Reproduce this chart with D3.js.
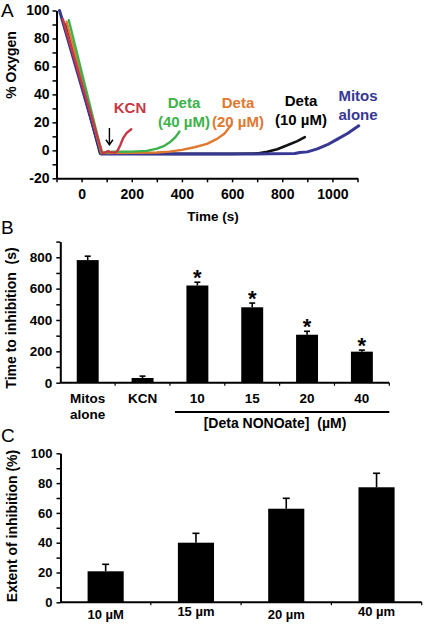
<!DOCTYPE html>
<html>
<head>
<meta charset="utf-8">
<script src="https://cdn.jsdelivr.net/npm/d3@7/dist/d3.min.js"></script>
<style>
  html, body { margin: 0; padding: 0; background: #fff; }
  svg { display: block; }
  text { font-family: "Liberation Sans", Arial, sans-serif; }
</style>
</head>
<body>
<svg id="chart" width="425" height="626"></svg>
<script>
// ---------- Panel A data: % oxygen vs time (s) ----------
const timeTicks = [0, 200, 400, 600, 800, 1000];
const oxygenTicks = [-20, 0, 20, 40, 60, 80, 100];

const mitosAlone = [[-88,100],[78,-2.6],[150,-2.6],[300,-2.7],[450,-2.7],[600,-2.7],[750,-2.5],[850,-2.3],[870,-1.6],[900,-1.1],[940,1],[980,4],[1020,8],[1060,12],[1105,17.5]];
const deta10 = [[-64,90],[74,-2.3],[200,-2.4],[400,-2.5],[600,-2.5],[700,-2.2],[740,-1.0],[780,0.8],[820,3.6],[860,6.6],[890,9.4]];
const deta20 = [[-60,92],[79,-2.0],[200,-1.8],[300,-1.5],[350,-0.9],[400,0.3],[450,2.2],[500,4.6],[540,8.2],[570,12],[597,18.2]];
const deta40 = [[-51,93],[80,-1.6],[130,-1.0],[200,-0.9],[260,-0.4],[300,1.2],[330,3.2],[355,6.2],[375,9.6],[390,13.4]];
const kcn = [[-75,94],[82,-1.8],[95,-1.6],[105,-0.6],[115,-1.3],[135,-1.6],[145,0.2],[155,4],[165,8.5],[180,12.5],[198,15.1]];
const kcnAddition = 111; // time of the arrow

// ---------- Panel B data: time to inhibition ----------
const inhibCategories = ["Mitos alone", "KCN", "10", "15", "20", "40"];
const inhibTime = [782, 30, 620, 481, 306, 198];
const inhibTimeErr = [25, 12, 21, 27, 22, 10];
const inhibSignificant = [false, false, true, true, true, true];
const inhibTicks = [0, 200, 400, 600, 800];

// ---------- Panel C data: extent of inhibition ----------
const extentCategories = ["10 µM", "15 µm", "20 µm", "40 µm"];
const extentValues = [20.8, 40.0, 62.8, 77.2];
const extentErr = [4.7, 6.3, 7.0, 9.4];
const extentTicks = [0, 20, 40, 60, 80, 100];

const svg = d3.select("#chart");
svg.append("rect").attr("width", 425).attr("height", 626).attr("fill", "#fff");

const FONT = '"Liberation Sans", Arial, sans-serif';

function styleAxis(g, fontSize) {
  g.select(".domain").attr("stroke", "#000").attr("stroke-width", 2);
  g.selectAll(".tick line").attr("stroke", "#000").attr("stroke-width", 1.5);
  g.selectAll(".tick text").attr("fill", "#000").style("font-family", FONT)
    .style("font-size", fontSize + "px").style("font-weight", "bold");
}

// ================= Panel A =================
const xA = d3.scaleLinear().domain([-100, 1100]).range([56.5, 357.5]);
const yA = d3.scaleLinear().domain([-20, 100]).range([178.3, 10.5]);

const gAy = svg.append("g").attr("transform", `translate(${xA(-100)},0)`)
  .call(d3.axisLeft(yA).tickValues(d3.range(-20, 101, 10)).tickSize(4).tickSizeOuter(0).tickPadding(3)
    .tickFormat(d => oxygenTicks.includes(d) ? d : ""));
styleAxis(gAy, 14);

const gAx = svg.append("g").attr("transform", `translate(0,${yA(-20)})`)
  .call(d3.axisBottom(xA).tickValues(d3.range(-100, 1101, 100)).tickSize(4).tickSizeOuter(0).tickPadding(7)
    .tickFormat(d => timeTicks.includes(d) ? d : ""));
styleAxis(gAx, 14);

const lineA = d3.line().x(d => xA(d[0])).y(d => yA(d[1]));
const seriesA = [
  { data: deta10, color: "#111111", w: 2.6 },
  { data: mitosAlone, color: "#373894", w: 3 },
  { data: deta20, color: "#e0782f", w: 2.4 },
  { data: deta40, color: "#3db24b", w: 2.4 },
  { data: kcn, color: "#c83844", w: 2.4 }
];
seriesA.forEach(s => {
  svg.append("path").datum(s.data).attr("d", lineA)
    .attr("fill", "none").attr("stroke", s.color).attr("stroke-width", s.w)
    .attr("stroke-linejoin", "round").attr("stroke-linecap", "round");
});

// arrow marking KCN addition
const ax = xA(kcnAddition);
const aTop = yA(16), aTip = yA(4);
svg.append("line").attr("x1", ax).attr("x2", ax).attr("y1", aTop).attr("y2", aTip)
  .attr("stroke", "#000").attr("stroke-width", 1.4);
svg.append("path").attr("d", `M${ax-3.5},${aTip-5} L${ax},${aTip} L${ax+3.5},${aTip-5}`)
  .attr("fill", "none").attr("stroke", "#000").attr("stroke-width", 1.4);

// series labels
const labelsA = [
  { lines: ["KCN"], x: 130, y: 113, color: "#c83844" },
  { lines: ["Deta", "(40 µM)"], x: 184, y: 108, color: "#3db24b" },
  { lines: ["Deta", "(20 µM)"], x: 238, y: 108, color: "#e0782f" },
  { lines: ["Deta", "(10 µM)"], x: 301, y: 106, color: "#000" },
  { lines: ["Mitos", "alone"], x: 358, y: 101, color: "#373894" }
];
labelsA.forEach(l => {
  const t = svg.append("text").attr("x", l.x).attr("y", l.y).attr("text-anchor", "middle")
    .attr("fill", l.color).style("font-size", "15px").style("font-weight", "bold");
  l.lines.forEach((s, i) => t.append("tspan").attr("x", l.x).attr("dy", i === 0 ? 0 : 19).text(s));
});

svg.append("text").attr("transform", "translate(16,65) rotate(-90)").attr("text-anchor", "middle")
  .style("font-size", "14px").style("font-weight", "bold").text("% Oxygen");
svg.append("text").attr("x", 213).attr("y", 221).attr("text-anchor", "middle")
  .style("font-size", "13.5px").style("font-weight", "bold").text("Time (s)");
svg.append("text").attr("x", 1).attr("y", 17).style("font-size", "19px").text("A");

// ================= Panel B =================
const xB = d3.scaleBand().domain(inhibCategories).range([60.3, 389.3]).padding(0);
const yB = d3.scaleLinear().domain([0, 900]).range([382.7, 241.6]);

const gBy = svg.append("g").attr("transform", `translate(60.3,0)`)
  .call(d3.axisLeft(yB).tickValues(d3.range(0, 901, 100)).tickSize(4).tickSizeOuter(0).tickPadding(4)
    .tickFormat(d => inhibTicks.includes(d) ? d : ""));
styleAxis(gBy, 13.5);

const gBx = svg.append("g").attr("transform", `translate(0,${yB(0)})`);
gBx.append("line").attr("x1", 60.3).attr("x2", 389.3).attr("stroke", "#000").attr("stroke-width", 2);
inhibCategories.concat([null]).forEach((c, i) => {
  const x = c === null ? 389.3 : xB(c);
  if (i === 0) return;
  gBx.append("line").attr("x1", x).attr("x2", x).attr("y1", 0).attr("y2", 3)
    .attr("stroke", "#000").attr("stroke-width", 1.2);
});

const bwB = xB.bandwidth() * 0.4;
inhibCategories.forEach((c, i) => {
  const cx = xB(c) + xB.bandwidth() / 2;
  svg.append("rect").attr("x", cx - bwB / 2).attr("width", bwB)
    .attr("y", yB(inhibTime[i])).attr("height", yB(0) - yB(inhibTime[i])).attr("fill", "#000");
  const et = yB(inhibTime[i] + inhibTimeErr[i]);
  svg.append("line").attr("x1", cx).attr("x2", cx).attr("y1", yB(inhibTime[i])).attr("y2", et)
    .attr("stroke", "#000").attr("stroke-width", 1.6);
  svg.append("line").attr("x1", cx - 3).attr("x2", cx + 3).attr("y1", et).attr("y2", et)
    .attr("stroke", "#000").attr("stroke-width", 1.6);
  if (inhibSignificant[i]) {
    svg.append("text").attr("x", cx).attr("y", et + 3).attr("text-anchor", "middle")
      .style("font-size", "22px").style("font-weight", "bold").text("*");
  }
  const parts = c.split(" ");
  const t = svg.append("text").attr("x", cx).attr("y", 403).attr("text-anchor", "middle")
    .style("font-size", "13.5px").style("font-weight", "bold");
  parts.forEach((p, k) => t.append("tspan").attr("x", cx).attr("dy", k === 0 ? 0 : 15.5).text(p));
});

svg.append("line").attr("x1", xB("10") + 5).attr("x2", 389.3).attr("y1", 412).attr("y2", 412)
  .attr("stroke", "#000").attr("stroke-width", 2);
svg.append("text").attr("x", 275).attr("y", 428).attr("text-anchor", "middle")
  .style("font-size", "14px").style("font-weight", "bold").style("white-space", "pre")
  .text("[Deta NONOate]  (µM)");

svg.append("text").attr("transform", "translate(16,318) rotate(-90)").attr("text-anchor", "middle")
  .style("font-size", "14px").style("font-weight", "bold").style("white-space", "pre")
  .text("Time to inhibition  (s)");
svg.append("text").attr("x", 1).attr("y", 234).style("font-size", "19px").text("B");

// ================= Panel C =================
const xC = d3.scaleBand().domain(extentCategories).range([60.5, 421.7]).padding(0);
const yC = d3.scaleLinear().domain([0, 100]).range([602.3, 453.3]);

const gCy = svg.append("g").attr("transform", `translate(60.5,0)`)
  .call(d3.axisLeft(yC).tickValues(d3.range(0, 101, 10)).tickSize(4).tickSizeOuter(0).tickPadding(4)
    .tickFormat(d => extentTicks.includes(d) ? d : ""));
styleAxis(gCy, 13);

const gCx = svg.append("g").attr("transform", `translate(0,${yC(0)})`);
gCx.append("line").attr("x1", 60.5).attr("x2", 421.7).attr("stroke", "#000").attr("stroke-width", 2);
extentCategories.concat([null]).forEach((c, i) => {
  if (i === 0) return;
  const x = c === null ? 421.7 : xC(c);
  gCx.append("line").attr("x1", x).attr("x2", x).attr("y1", 0).attr("y2", 3)
    .attr("stroke", "#000").attr("stroke-width", 1.2);
});

const bwC = xC.bandwidth() * 0.4;
extentCategories.forEach((c, i) => {
  const cx = xC(c) + xC.bandwidth() / 2;
  svg.append("rect").attr("x", cx - bwC / 2).attr("width", bwC)
    .attr("y", yC(extentValues[i])).attr("height", yC(0) - yC(extentValues[i])).attr("fill", "#000");
  const et = yC(extentValues[i] + extentErr[i]);
  svg.append("line").attr("x1", cx).attr("x2", cx).attr("y1", yC(extentValues[i])).attr("y2", et)
    .attr("stroke", "#000").attr("stroke-width", 1.6);
  svg.append("line").attr("x1", cx - 3.5).attr("x2", cx + 3.5).attr("y1", et).attr("y2", et)
    .attr("stroke", "#000").attr("stroke-width", 1.6);
  svg.append("text").attr("x", cx).attr("y", i % 2 === 0 ? 619 : 616).attr("text-anchor", "middle")
    .style("font-size", "13px").style("font-weight", "bold").text(c);
});

svg.append("text").attr("transform", "translate(17,526) rotate(-90)").attr("text-anchor", "middle")
  .style("font-size", "14px").style("font-weight", "bold").text("Extent of inhibition (%)");
svg.append("text").attr("x", 1).attr("y", 442).style("font-size", "19px").text("C");
</script>
</body>
</html>
